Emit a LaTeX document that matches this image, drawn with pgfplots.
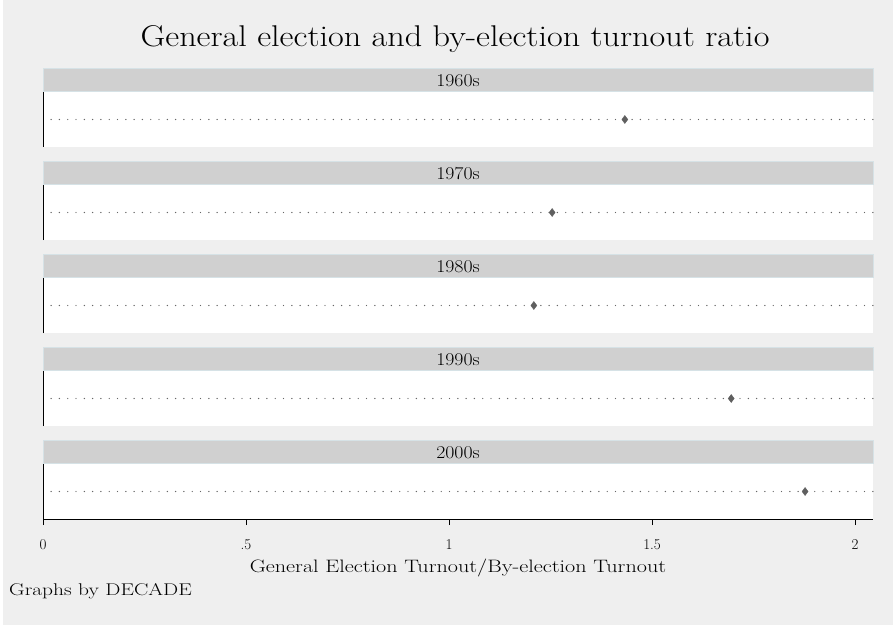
\documentclass[border=0pt]{standalone}
\usepackage{pgfplots}
\usepackage{graphicx}
\pgfplotsset{compat=1.18}
\definecolor{bg}{HTML}{EFEFEF}
\definecolor{strip}{HTML}{D0D0D0}
\definecolor{stripedge}{HTML}{D6E2E6}
\definecolor{mk}{HTML}{5F5F5F}
\definecolor{dotc}{HTML}{666666}
\pgfplotsset{panel/.style={
  width=830pt, height=55pt, scale only axis,
  xmin=0, xmax=2.0443, ymin=0, ymax=1,
  axis background/.style={fill=white},
  axis y line=left,
  axis line style={-, black, line width=0.8pt},
  ytick=\empty,
  clip=false,
  every axis title shift=0pt,
  title style={fill=strip, draw=stripedge, line width=0.6pt,
    minimum width=830pt, minimum height=23pt, inner sep=0pt,
    anchor=south, at={(0.5,1)}, yshift=0pt,
    font=\fontsize{18}{18}\selectfont},
}}
\newcommand{\dotline}{\addplot[dotc, line width=1.4pt, dash pattern=on 0pt off 8.3pt, line cap=round] coordinates {(0.02,0.5) (2.0443,0.5)};}
\newcommand{\mkpt}[1]{\addplot[only marks, mark=diamond*, mark size=4pt, color=mk, mark options={fill=mk, draw=mk}] coordinates {(#1,0.5)};}
\newcommand{\hd}[1]{\scalebox{1.1}[1]{#1}}
\begin{document}
\begin{tikzpicture}
\fill[bg] (0,0) rectangle (893pt,625pt);
\fill[white] (0,0) rectangle (2.5pt,625pt);
\path[use as bounding box] (0,0) rectangle (893pt,625pt);
\node[font=\fontsize{30}{30}\selectfont] at (455pt,586pt) {\scalebox{1.14}[1]{General election and by-election turnout ratio}};
\begin{axis}[panel, hide x axis, at={(43pt,478pt)}, anchor=south west, title={\hd{1960s}}]
\dotline
\mkpt{1.433}
\end{axis}
\begin{axis}[panel, hide x axis, at={(43pt,385pt)}, anchor=south west, title={\hd{1970s}}]
\dotline
\mkpt{1.254}
\end{axis}
\begin{axis}[panel, hide x axis, at={(43pt,292pt)}, anchor=south west, title={\hd{1980s}}]
\dotline
\mkpt{1.209}
\end{axis}
\begin{axis}[panel, hide x axis, at={(43pt,199pt)}, anchor=south west, title={\hd{1990s}}]
\dotline
\mkpt{1.695}
\end{axis}
\begin{axis}[panel, at={(43pt,106pt)}, anchor=south west, title={\hd{2000s}},
  axis x line=bottom,
  x axis line style={-},
  xtick={0,0.5,1,1.5,2}, xticklabels={0,.5,1,1.5,2},
  tick align=outside, major tick length=6pt,
  tick style={black, line width=0.8pt},
  xticklabel style={font=\fontsize{15}{15}\selectfont, anchor=center, yshift=-20pt},
  xlabel={\scalebox{1.23}[1]{General Election Turnout/By-election Turnout}},
  xlabel style={font=\fontsize{18}{18}\selectfont, at={(axis description cs:0.5,0)}, anchor=center, yshift=-49pt, xshift=0pt}]
\dotline
\mkpt{1.877}
\end{axis}
\node[anchor=west, font=\fontsize{17}{17}\selectfont, inner sep=0pt] at (9pt,34pt) {\scalebox{1.26}[1]{Graphs by DECADE}};
\end{tikzpicture}
\end{document}
